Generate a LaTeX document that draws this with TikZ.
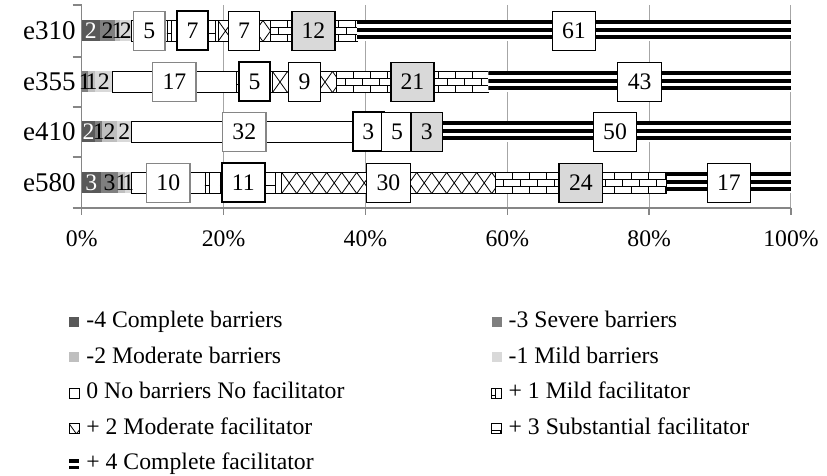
\documentclass[tikz,border=0pt]{standalone}
\usepackage{fontspec}
\setmainfont{Liberation Serif}
\usetikzlibrary{calc}

\definecolor{lvlfour}{HTML}{595959}
\definecolor{lvlthree}{HTML}{7F7F7F}
\definecolor{lvltwo}{HTML}{BFBFBF}
\definecolor{lvlone}{HTML}{D9D9D9}
\definecolor{gridgray}{HTML}{A6A6A6}
\definecolor{axisgray}{HTML}{868686}

\tikzset{
  % barrier levels: plain fills
  segmfour/.style={fill=lvlfour},
  segmthree/.style={fill=lvlthree},
  segmtwo/.style={fill=lvltwo},
  segmone/.style={fill=lvlone},
  segzero/.style={fill=white, draw=black, line width=0.4pt},
  % facilitator levels: hatched fills
  segpone/.style={fill=white, draw=black, line width=0.4pt, path picture={
      \foreach \k in {0,...,24}
        \draw[line width=0.4pt] ([xshift=\k*5.5pt+2pt]path picture bounding box.north west) -- ++(0,-12pt);
      \foreach \k in {0,...,12}
        \draw[line width=0.4pt] ([xshift=\k*11pt-3.5pt, yshift=-1pt]path picture bounding box.west) -- ++(5.5pt,0);
    }},
  segptwo/.style={fill=white, draw=black, line width=0.4pt, path picture={
      \foreach \k in {0,...,32}
        \draw[line width=0.4pt] ([xshift=\k*7.5pt]path picture bounding box.north west)
          -- ++(7.5pt,-10.5pt) ++(-7.5pt,0) -- ++(7.5pt,10.5pt);
    }},
  segpthree/.style={fill=white, draw=black, line width=0.4pt, path picture={
      \foreach \r in {0,1,2} {
        \draw[line width=0.4pt] ([yshift=-\r*3.5pt]path picture bounding box.north west)
          -- ([yshift=-\r*3.5pt]path picture bounding box.north east);
        \foreach \k in {0,...,12}
          \draw[line width=0.4pt] ([xshift={\k*8.5pt+mod(\r,2)*4.25pt}, yshift={-\r*3.5pt}]path picture bounding box.north west) -- ++(0,-3.5pt);
      }
    }},
  segpfour/.style={fill=white, path picture={
      \foreach \d in {1,4.65,8.5}
        \draw[line width=2pt] ([yshift=-\d*1pt]path picture bounding box.north west)
          -- ([yshift=-\d*1pt]path picture bounding box.north east);
    }},
  % value labels
  valbox/.style={minimum height=19.5pt, inner xsep=4.9pt, inner ysep=0pt},
  labmfour/.style={inner sep=0pt, text=white},
  labmthree/.style={inner sep=0pt},
  labmtwo/.style={inner sep=0pt},
  labmone/.style={inner sep=0pt},
  labzero/.style={valbox, fill=white, draw=axisgray, line width=0.6pt},
  labpone/.style={valbox, fill=white, draw=black, line width=1pt},
  labptwo/.style={valbox, fill=white, draw=black, line width=0.5pt},
  labpthree/.style={valbox, fill=lvlone, draw=black, line width=0.8pt},
  labpfour/.style={valbox, fill=white, draw=black, line width=0.5pt},
  axisline/.style={axisgray, line width=0.7pt},
}

\begin{document}
\begin{tikzpicture}[x=0.5pt, y=-0.5pt, font=\fontsize{11.85}{14}\selectfont]
\useasboundingbox (0,0) rectangle (827,476);

% category names
\foreach \cat/\yc in {e310/31, e355/82, e410/132, e580/183}
  \node[anchor=east, inner sep=0pt, font=\fontsize{13.5}{16}\selectfont] (name-\cat) at (76,\yc) {\cat};

\begin{scope}[shift={(81.7,0)}, x=3.5465pt]
  % grid and axes
  \foreach \p in {20,40,...,100}
    \draw[gridgray, line width=0.5pt] (\p,5) -- (\p,208);
  \draw[axisline] (0,5) -- (0,208);
  \foreach \t in {5,57,107,157}
    \draw[axisline] (-1.27,\t) -- (0,\t);
  \draw[axisline] (-1.27,208) -- (100,208);
  \foreach \p in {0,20,...,100} {
    \draw[axisline] (\p,208) -- (\p,215);
    \node (tick\p) at (\p,239) {\p\%};
  }

  % stacked bars, in percent
  \foreach \cat/\yc/\segs in {
      e310/31/{mfour/0/2.58/2, mthree/2.58/4.69/2, mtwo/4.69/5.40/1, mone/5.40/7.05/2,
               zero/7.05/12.02/5, pone/12.02/19.21/7, ptwo/19.21/26.55/7,
               pthree/26.55/38.81/12, pfour/38.81/100/61},
      e355/82/{mthree/0/0.9/1, mtwo/0.9/1.9/1, mone/1.9/4.3/2,
               zero/4.3/21.85/17, pone/21.85/26.9/5, ptwo/26.9/35.94/9,
               pthree/35.94/57.32/21, pfour/57.32/100/43},
      e410/132/{mfour/0/1.9/2, mthree/1.9/2.9/1, mtwo/2.9/4.95/2, mone/4.95/7.05/2,
               zero/7.05/38.8/32, pone/38.8/42.0/3, ptwo/42.0/46.9/5,
               pthree/46.9/50.4/3, pfour/50.4/100/50},
      e580/183/{mfour/0/2.68/3, mthree/2.68/5.16/3, mtwo/5.16/6.1/1, mone/6.1/7.05/1,
               zero/7.05/17.38/10, pone/17.38/28.2/11, ptwo/28.2/58.27/30,
               pthree/58.27/82.48/24, pfour/82.48/100/17}} {
    \foreach \lvl/\a/\b/\v in \segs
      \path[seg\lvl] (\a,\yc-10.5) rectangle (\b,\yc+10.5);
    \foreach \lvl/\a/\b/\v in \segs
      \node[lab\lvl] (\cat-\lvl) at ({(\a+\b)/2},\yc) {\v};
  }
\end{scope}

% legend
\foreach \lvl/\kx/\ky/\txt in {mfour/0/0/{-4 Complete barriers}, mthree/1/0/{-3 Severe barriers},
    mtwo/0/1/{-2 Moderate barriers}, mone/1/1/{-1 Mild barriers},
    zero/0/2/{0 No barriers No facilitator}, pone/1/2/{+ 1 Mild facilitator},
    ptwo/0/3/{+ 2 Moderate facilitator}, pthree/1/3/{+ 3 Substantial facilitator},
    pfour/0/4/{+ 4 Complete facilitator}} {
  \path[seg\lvl] ({69+422.7*\kx},{317+35.5*\ky}) rectangle ++(10,10);
  \node[anchor=base west, inner sep=0pt] (key-\lvl) at ({86+422.3*\kx},{328+35.5*\ky}) {\txt};
}
\end{tikzpicture}
\end{document}
